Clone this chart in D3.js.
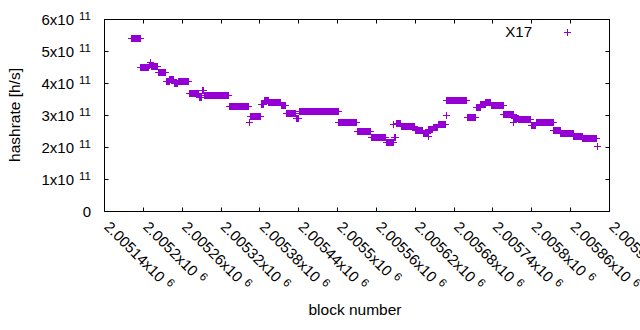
<!DOCTYPE html>
<html>
<head>
<meta charset="utf-8">
<script src="https://cdn.jsdelivr.net/npm/d3@7"></script>
<style>
  html, body { margin: 0; padding: 0; background: #fff; }
  svg { display: block; }
  text { font-family: "Liberation Sans", Arial, sans-serif; fill: #000; }
</style>
</head>
<body>
<svg id="chart" width="640" height="330"></svg>
<script>
// ---- data ----
const seriesName = "X17";
// runs of consecutive blocks sharing the same hashrate estimate
const runStart = [2005181,2005196,2005209,2005211,2005212,2005223,2005235,2005241,2005248,2005254,
                  2005271,2005286,2005291,2005294,2005333,2005364,2005365,2005382,2005387,2005394,
                  2005413,2005421,2005436,2005441,2005502,2005530,2005552,2005575,2005587,2005588,
                  2005591,2005598,2005620,2005632,2005640,2005641,2005648,2005656,2005668,2005669,
                  2005700,2005714,2005721,2005729,2005737,2005757,2005772,2005773,2005780,2005799,
                  2005807,2005834,2005845,2005865,2005879,2005901];
const runEnd   = [2005195,2005208,2005210,2005211,2005222,2005234,2005240,2005247,2005253,2005270,
                  2005285,2005290,2005293,2005332,2005363,2005364,2005381,2005386,2005393,2005412,
                  2005420,2005435,2005440,2005501,2005529,2005551,2005574,2005586,2005587,2005590,
                  2005597,2005619,2005631,2005639,2005640,2005647,2005655,2005667,2005668,2005699,
                  2005713,2005720,2005728,2005736,2005756,2005772,2005772,2005779,2005798,2005806,
                  2005833,2005844,2005864,2005878,2005900,2005901];
const runValue = [5.40e11,4.49e11,4.55e11,4.66e11,4.54e11,4.33e11,4.05e11,4.12e11,3.99e11,4.07e11,
                  3.70e11,3.55e11,3.78e11,3.62e11,3.29e11,2.78e11,2.97e11,3.35e11,3.48e11,3.40e11,
                  3.32e11,3.07e11,2.90e11,3.12e11,2.77e11,2.50e11,2.30e11,2.15e11,2.72e11,2.30e11,
                  2.75e11,2.65e11,2.54e11,2.44e11,2.35e11,2.55e11,2.63e11,2.72e11,3.00e11,3.46e11,
                  2.93e11,3.24e11,3.35e11,3.40e11,3.30e11,3.02e11,2.79e11,2.92e11,2.87e11,2.68e11,
                  2.79e11,2.52e11,2.43e11,2.34e11,2.27e11,2.04e11];

const xTickValues = [2005140,2005200,2005260,2005320,2005380,2005440,2005500,
                     2005560,2005620,2005680,2005740,2005800,2005860,2005920];
const xTickLabels = ["2.00514","2.0052","2.00526","2.00532","2.00538","2.00544","2.0055",
                     "2.00556","2.00562","2.00568","2.00574","2.0058","2.00586","2.0059"];
const xTickExp = "6";
const yTickValues = [0,1e11,2e11,3e11,4e11,5e11,6e11];
const yTickLabels = ["0","1x10","2x10","3x10","4x10","5x10","6x10"];
const yTickExp = "11";
const xTitle = "block number";
const yTitle = "hashrate [h/s]";

// ---- layout ----
const W = 640, H = 330;
const L = 104.5, R = 609.5, T = 19.5, B = 211.5;
const color = "#9400d3";
const fs = 15, supFs = 11.5;

const svg = d3.select("#chart");
svg.append("rect").attr("width", W).attr("height", H).attr("fill", "#fff");

const x = d3.scaleLinear().domain([2005140, 2005920]).range([L, R]);
const y = d3.scaleLinear().domain([0, 6e11]).range([B, T]);
const snap = v => Math.round(v - 0.5) + 0.5;

// expand the runs into one point per block
const points = [];
runStart.forEach((s, i) => {
  for (let b = s; b <= runEnd[i]; b++) points.push({ b: b, v: runValue[i] });
});

// ---- ticks (inward, mirrored) ----
const tl = 4;
const tickG = svg.append("g").attr("stroke", "#000").attr("stroke-width", 1).attr("fill", "none");
xTickValues.forEach(v => {
  const px = snap(x(v));
  if (px > L + 0.5 && px < R - 0.5) {
    tickG.append("path").attr("d", `M${px},${B}V${B - tl}M${px},${T}V${T + tl}`);
  }
});
yTickValues.forEach(v => {
  const py = snap(y(v));
  if (py > T + 0.5 && py < B - 0.5) {
    tickG.append("path").attr("d", `M${L},${py}H${L + tl}M${R},${py}H${R - tl}`);
  }
});

// ---- points ----
const a = 3.5;
svg.append("g").attr("stroke", color).attr("stroke-width", 1).attr("fill", "none")
  .selectAll("path").data(points).join("path")
  .attr("d", d => {
    const cx = snap(x(d.b)), cy = snap(y(d.v));
    return `M${cx - a},${cy}H${cx + a}M${cx},${cy - a}V${cy + a}`;
  });

// ---- frame ----
svg.append("rect").attr("x", L).attr("y", T).attr("width", R - L).attr("height", B - T)
  .attr("fill", "none").attr("stroke", "#000").attr("stroke-width", 1);

// ---- y tick labels ----
yTickValues.forEach((v, i) => {
  const t = svg.append("text").attr("x", 91).attr("y", y(v)).attr("dy", "0.35em")
    .attr("text-anchor", "end").attr("font-size", fs);
  t.append("tspan").text(yTickLabels[i]);
  if (v !== 0) {
    t.append("tspan").attr("dx", 5).attr("dy", -4.5).attr("font-size", supFs).text(yTickExp);
  }
});

// ---- x tick labels (rotated) ----
xTickValues.forEach((v, i) => {
  const px = x(v);
  const t = svg.append("text")
    .attr("transform", `translate(${px + 2.5},224) rotate(45)`)
    .attr("dy", "0.35em").attr("font-size", fs).attr("text-anchor", "start");
  t.append("tspan").text(xTickLabels[i] + "x10");
  t.append("tspan").attr("dx", 5).attr("dy", -5).attr("font-size", supFs).text(xTickExp);
});

// ---- axis titles ----
svg.append("text").attr("x", (L + R) / 2 - 2).attr("y", 315).attr("text-anchor", "middle")
  .attr("font-size", 15.5).text(xTitle);
svg.append("text").attr("transform", `translate(20,115) rotate(-90)`)
  .attr("text-anchor", "middle").attr("font-size", 15.5).text(yTitle);

// ---- legend ----
svg.append("text").attr("x", 532).attr("y", 32).attr("dy", "0.35em")
  .attr("text-anchor", "end").attr("font-size", fs).text(seriesName);
svg.append("path").attr("stroke", color).attr("stroke-width", 1).attr("fill", "none")
  .attr("d", `M${567.5 - a},32.5H${567.5 + a}M567.5,${32.5 - a}V${32.5 + a}`);
</script>
</body>
</html>
